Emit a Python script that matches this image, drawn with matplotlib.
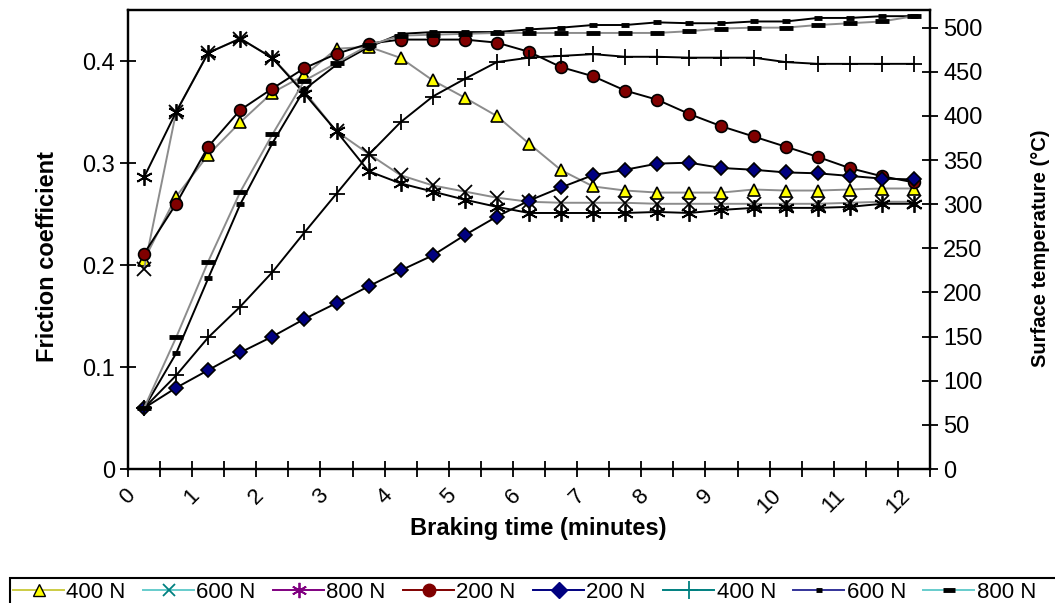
import matplotlib
matplotlib.use("Agg")
import matplotlib.pyplot as plt
from matplotlib.lines import Line2D
from matplotlib.patches import Rectangle
from matplotlib.ticker import FuncFormatter, MultipleLocator

plt.rcParams['font.family'] = ['Liberation Sans', 'DejaVu Sans']

# braking time (minutes), one point per half-minute category
time = [0.25, 0.75, 1.25, 1.75, 2.25, 2.75, 3.25, 3.75, 4.25, 4.75, 5.25, 5.75,
        6.25, 6.75, 7.25, 7.75, 8.25, 8.75, 9.25, 9.75, 10.25, 10.75, 11.25,
        11.75, 12.25]

# friction coefficient (left axis)
mu_400 = [0.205, 0.267, 0.308, 0.340, 0.369, 0.386, 0.412, 0.414, 0.403, 0.381,
          0.364, 0.346, 0.319, 0.293, 0.277, 0.273, 0.271, 0.271, 0.271, 0.274,
          0.273, 0.273, 0.274, 0.275, 0.275]
mu_600 = [0.196, 0.350, 0.408, 0.422, 0.403, 0.370, 0.331, 0.309, 0.288, 0.278,
          0.272, 0.266, 0.262, 0.261, 0.261, 0.261, 0.260, 0.260, 0.260, 0.260,
          0.260, 0.260, 0.261, 0.262, 0.262]
mu_800 = [0.286, 0.350, 0.408, 0.422, 0.403, 0.368, 0.331, 0.292, 0.280, 0.272,
          0.264, 0.257, 0.251, 0.251, 0.251, 0.251, 0.252, 0.251, 0.254, 0.256,
          0.256, 0.256, 0.257, 0.260, 0.260]
mu_200 = [0.211, 0.260, 0.316, 0.352, 0.373, 0.393, 0.407, 0.417, 0.421, 0.421,
          0.421, 0.418, 0.409, 0.394, 0.385, 0.371, 0.362, 0.348, 0.336, 0.326,
          0.316, 0.306, 0.295, 0.287, 0.281]

# surface temperature in degC (right axis)
temp_200 = [69, 92, 112, 132, 150, 170, 188, 207, 225, 242, 265, 286, 304, 319,
            333, 339, 346, 347, 341, 339, 336, 335, 332, 329, 328]
temp_400 = [69, 106, 149, 184, 223, 268, 312, 356, 393, 422, 442, 461, 466, 468,
            470, 467, 467, 466, 466, 466, 461, 459, 459, 459, 459]
temp_600 = [69, 131, 216, 300, 369, 430, 458, 478, 493, 495, 495, 495, 498, 500,
            503, 503, 506, 505, 505, 507, 507, 511, 511, 513, 513]
temp_800 = [69, 149, 235, 314, 379, 440, 460, 480, 491, 492, 493, 494, 494, 494,
            494, 494, 494, 496, 499, 500, 500, 503, 505, 507, 513]

W, H = 1055, 603
fig = plt.figure(figsize=(W / 100, H / 100), dpi=100)
ax = fig.add_axes([128 / W, 1 - 469 / H, 802 / W, 459 / H])
ax2 = ax.twinx()

gray = '#8c8c8c'
ax.plot(time, mu_400, color=gray, lw=1.4, marker='^', ms=9, mfc='#ffff00', mec='black', mew=1.2, zorder=3)
ax.plot(time, mu_600, color=gray, lw=1.4, marker='x', ms=10, mec='black', mew=1.3, zorder=3)
ax.plot(time, mu_800, color='black', lw=1.4, marker=(6, 2, 0), ms=12, mec='black', mew=1.3, zorder=3)
ax.plot(time, mu_200, color='black', lw=1.4, marker='o', ms=8.5, mfc='#800000', mec='black', mew=1.2, zorder=4)

ax2.plot(time, temp_200, color='black', lw=1.4, marker='D', ms=7.5, mfc='#000080', mec='black', mew=1.2)
ax2.plot(time, temp_400, color='black', lw=1.4, marker='+', ms=12, mec='black', mew=1.3)
ax2.plot(time, temp_600, color='black', lw=1.4, marker='_', ms=6, mec='black', mew=3.5)
ax2.plot(time, temp_800, color=gray, lw=1.4, marker='_', ms=10, mec='black', mew=3.5)

ax.set_xlim(0, 12.5)
ax.set_ylim(0, 0.45)
ax2.set_ylim(0, 520)
ax.xaxis.set_major_locator(MultipleLocator(1))
ax.xaxis.set_minor_locator(MultipleLocator(0.5))
ax.yaxis.set_ticks([0, 0.1, 0.2, 0.3, 0.4])
ax2.yaxis.set_ticks([0, 50, 100, 150, 200, 250, 300, 350, 400, 450, 500])
ax.yaxis.set_major_formatter(FuncFormatter(lambda v, p: f"{v:g}"))

ax.tick_params(axis='both', which='both', direction='inout', length=11, width=1.3, labelsize=17, colors='black')
ax.tick_params(axis='x', which='major', pad=6, labelsize=16)
ax.tick_params(axis='y', pad=4)
ax2.tick_params(axis='y', direction='inout', length=11, width=1.3, labelsize=17, pad=4)
for lbl in ax.get_xticklabels():
    lbl.set_rotation(45)
    lbl.set_ha('center')

for a in (ax, ax2):
    for s in a.spines.values():
        s.set_linewidth(1.6)
        s.set_color('black')

ax.set_xlabel('Braking time (minutes)', fontsize=17, fontweight='bold')
ax.set_ylabel('Friction coefficient', fontsize=17, fontweight='bold')
ax2.set_ylabel('Surface temperature (°C)', fontsize=14.5, fontweight='bold')
ax.xaxis.set_label_coords((538 - 128) / 802, (469 - 529) / 459)
ax.xaxis.label.set_va('center')
ax.yaxis.set_label_coords((48 - 128) / 802, (469 - 256) / 459)
ax.yaxis.label.set_va('center')
ax2.yaxis.set_label_coords((1041 - 128) / 802, (469 - 248) / 459)
ax2.yaxis.label.set_va('center')

# legend drawn the way the original shows it (colours differ from the plotted lines)
handles = [
    Line2D([], [], color='#cccc44', lw=1.4, marker='^', ms=9, mfc='#ffff00', mec='black'),
    Line2D([], [], color='#66cccc', lw=1.4, marker='x', ms=9, mec='#008080', mew=1.3),
    Line2D([], [], color='#800080', lw=1.4, marker=(6, 2, 0), ms=11, mec='#800080', mew=1.3),
    Line2D([], [], color='#800000', lw=1.4, marker='o', ms=9, mfc='#800000', mec='#800000'),
    Line2D([], [], color='#000080', lw=1.4, marker='D', ms=8, mfc='#000080', mec='#000080'),
    Line2D([], [], color='#008080', lw=1.4, marker='+', ms=13, mec='#008080', mew=1.3),
    Line2D([], [], color='#333399', lw=1.4, marker='_', ms=5, mec='black', mew=3.5),
    Line2D([], [], color='#66cccc', lw=1.4, marker='_', ms=9, mec='black', mew=3.5),
]
labels = ['400 N', '600 N', '800 N', '200 N', '200 N', '400 N', '600 N', '800 N']
fig.patches.append(Rectangle((10 / W, -0.1), 1.2, (H - 578) / H + 0.1, transform=fig.transFigure,
                             fill=False, ec='black', lw=1.5))
fig.legend(handles, labels, loc='center left', bbox_to_anchor=(13 / W, 1 - 592 / H), ncol=8,
           frameon=False, fontsize=16, numpoints=1, handlelength=2.3, handletextpad=0.1,
           columnspacing=0.78, borderpad=0, borderaxespad=0)

fig.savefig('out.png', dpi=100)
